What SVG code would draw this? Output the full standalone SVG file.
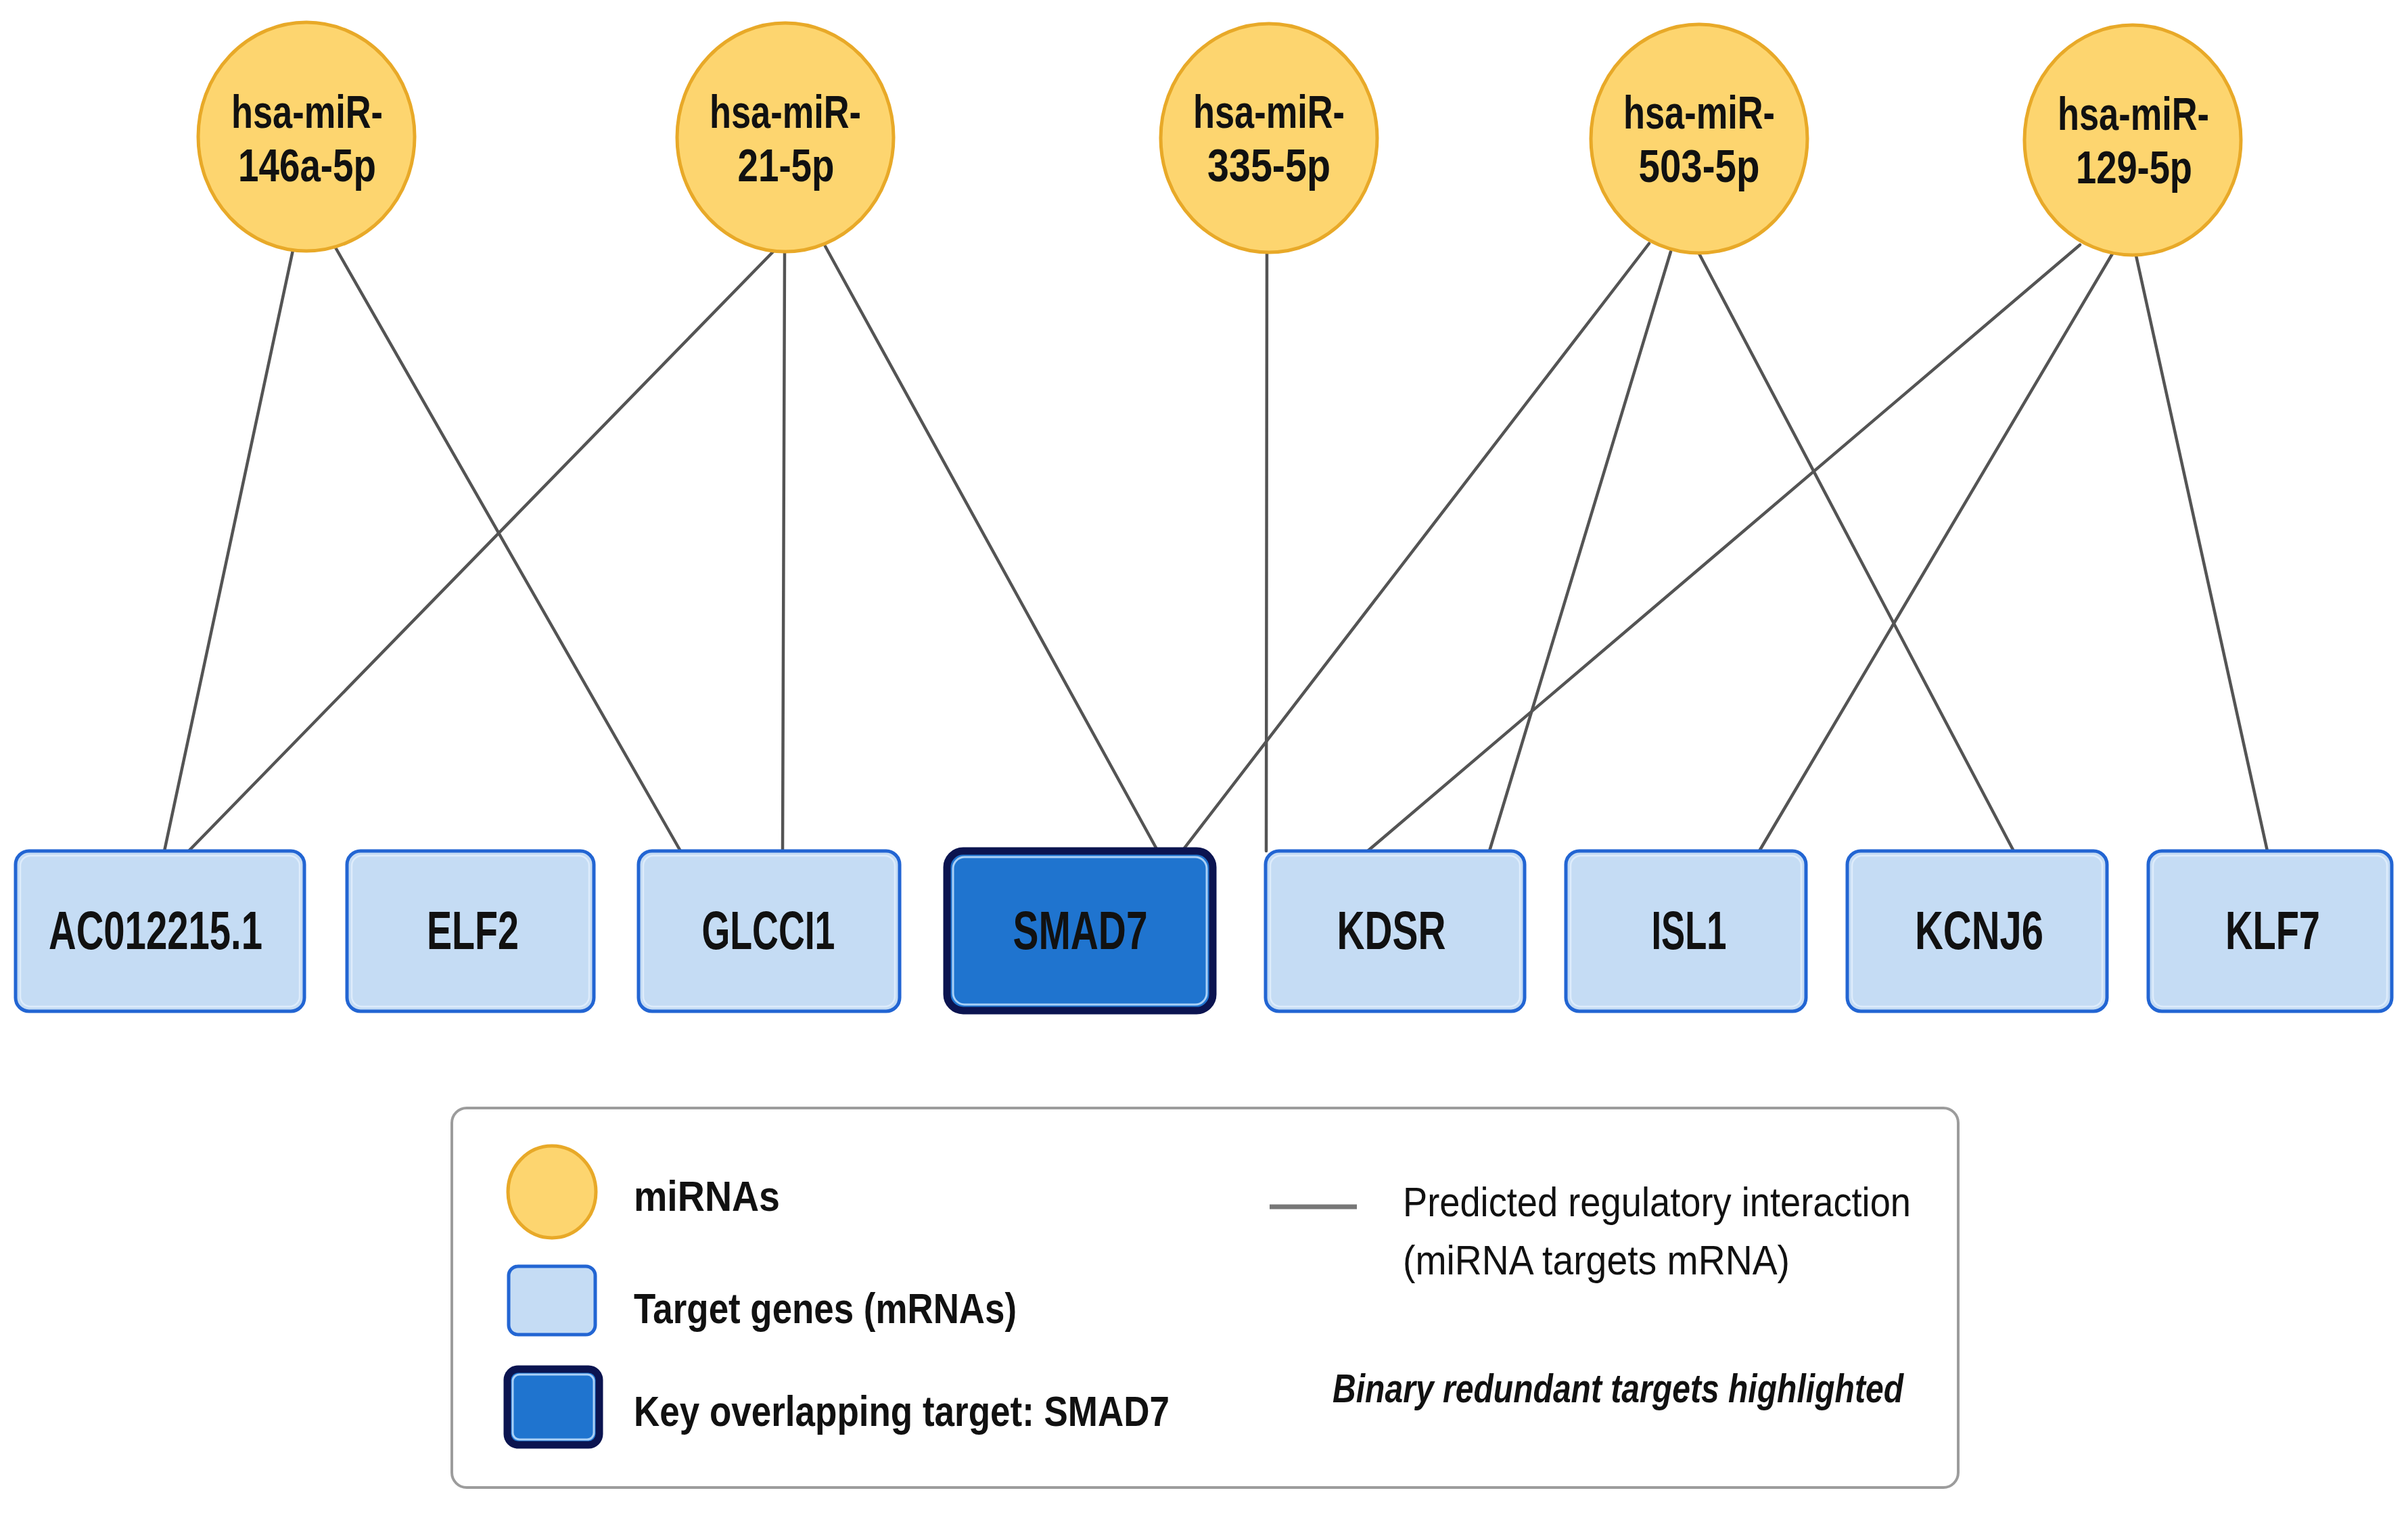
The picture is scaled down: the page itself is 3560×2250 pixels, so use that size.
<svg xmlns="http://www.w3.org/2000/svg" width="3560" height="2250" viewBox="0 0 3560 2250">
<style>
.mir{fill:#fdd56f;stroke:#e8a928;stroke-width:5}
.gene{fill:#c5dcf4;stroke:#2265d3;stroke-width:5}
.geneIn{fill:none;stroke:#e4f0fc;stroke-width:2.5;opacity:0.8}
.key{fill:#1f74cf;stroke:#0b1450;stroke-width:11}
.keyIn{fill:none;stroke:#a9d0f6;stroke-width:3}
.edge{stroke:#545454;stroke-width:4.5;fill:none;stroke-linecap:round}
.t{font-family:"Liberation Sans",Arial,sans-serif;fill:#111}
.lbl{font-weight:bold;text-anchor:middle}
.mt{font-size:69px}
.gt{font-size:80px}
.lg{font-size:63px;font-weight:bold}
.lr{font-size:62px}
</style>
<rect x="0" y="0" width="3560" height="2250" fill="#ffffff"/>

<g id="connectors">
<line class="edge" x1="433" y1="370" x2="243" y2="1258"/>
<line class="edge" x1="496" y1="366" x2="1006" y2="1258"/>
<line class="edge" x1="1145" y1="370" x2="279" y2="1258"/>
<line class="edge" x1="1160" y1="372" x2="1157" y2="1258"/>
<line class="edge" x1="1220" y1="364" x2="1710" y2="1255"/>
<line class="edge" x1="1873" y1="373" x2="1872" y2="1258"/>
<line class="edge" x1="2438" y1="360" x2="1750" y2="1255"/>
<line class="edge" x1="2470" y1="372" x2="2202" y2="1258"/>
<line class="edge" x1="2512" y1="375" x2="2977" y2="1258"/>
<line class="edge" x1="3075" y1="362" x2="2022" y2="1258"/>
<line class="edge" x1="3123" y1="375" x2="2601" y2="1258"/>
<line class="edge" x1="3158" y1="378" x2="3352" y2="1258"/>
</g>

<g id="mir146a">
<ellipse class="mir" cx="453" cy="202" rx="160" ry="169"/>
<text class="t lbl mt" x="454" y="189" textLength="224" lengthAdjust="spacingAndGlyphs">hsa-miR-</text>
<text class="t lbl mt" x="454" y="268" textLength="204" lengthAdjust="spacingAndGlyphs">146a-5p</text>
</g>
<g id="mir21">
<ellipse class="mir" cx="1161" cy="203" rx="160" ry="169"/>
<text class="t lbl mt" x="1161" y="189" textLength="224" lengthAdjust="spacingAndGlyphs">hsa-miR-</text>
<text class="t lbl mt" x="1162" y="268" textLength="143" lengthAdjust="spacingAndGlyphs">21-5p</text>
</g>
<g id="mir335">
<ellipse class="mir" cx="1876" cy="204" rx="160" ry="169"/>
<text class="t lbl mt" x="1876" y="189" textLength="224" lengthAdjust="spacingAndGlyphs">hsa-miR-</text>
<text class="t lbl mt" x="1876" y="268" textLength="182" lengthAdjust="spacingAndGlyphs">335-5p</text>
</g>
<g id="mir503">
<ellipse class="mir" cx="2512" cy="205" rx="160" ry="169"/>
<text class="t lbl mt" x="2512" y="190" textLength="224" lengthAdjust="spacingAndGlyphs">hsa-miR-</text>
<text class="t lbl mt" x="2512" y="269" textLength="179" lengthAdjust="spacingAndGlyphs">503-5p</text>
</g>
<g id="mir129">
<ellipse class="mir" cx="3153" cy="207" rx="160" ry="170"/>
<text class="t lbl mt" x="3154" y="192" textLength="224" lengthAdjust="spacingAndGlyphs">hsa-miR-</text>
<text class="t lbl mt" x="3155" y="271" textLength="172" lengthAdjust="spacingAndGlyphs">129-5p</text>
</g>

<g id="gAC012215">
<rect class="gene" x="23" y="1258" width="427" height="237" rx="20"/>
<rect class="geneIn" x="30" y="1265" width="413" height="223" rx="15"/>
<text class="t lbl gt" x="230" y="1403" textLength="316" lengthAdjust="spacingAndGlyphs">AC012215.1</text>
</g>
<g id="gELF2">
<rect class="gene" x="513" y="1258" width="365" height="237" rx="20"/>
<rect class="geneIn" x="520" y="1265" width="351" height="223" rx="15"/>
<text class="t lbl gt" x="699" y="1403" textLength="136" lengthAdjust="spacingAndGlyphs">ELF2</text>
</g>
<g id="gGLCCI1">
<rect class="gene" x="944" y="1258" width="386" height="237" rx="20"/>
<rect class="geneIn" x="951" y="1265" width="372" height="223" rx="15"/>
<text class="t lbl gt" x="1136" y="1403" textLength="197" lengthAdjust="spacingAndGlyphs">GLCCI1</text>
</g>
<g id="gSMAD7">
<rect class="key" x="1400" y="1258" width="393" height="236" rx="24"/>
<rect class="keyIn" x="1409" y="1267" width="375" height="218" rx="17"/>
<text class="t lbl gt" x="1597" y="1403" textLength="199" lengthAdjust="spacingAndGlyphs">SMAD7</text>
</g>
<g id="gKDSR">
<rect class="gene" x="1871" y="1258" width="383" height="237" rx="20"/>
<rect class="geneIn" x="1878" y="1265" width="369" height="223" rx="15"/>
<text class="t lbl gt" x="2057" y="1403" textLength="161" lengthAdjust="spacingAndGlyphs">KDSR</text>
</g>
<g id="gISL1">
<rect class="gene" x="2315" y="1258" width="355" height="237" rx="20"/>
<rect class="geneIn" x="2322" y="1265" width="341" height="223" rx="15"/>
<text class="t lbl gt" x="2497" y="1403" textLength="111" lengthAdjust="spacingAndGlyphs">ISL1</text>
</g>
<g id="gKCNJ6">
<rect class="gene" x="2731" y="1258" width="384" height="237" rx="20"/>
<rect class="geneIn" x="2738" y="1265" width="370" height="223" rx="15"/>
<text class="t lbl gt" x="2926" y="1403" textLength="190" lengthAdjust="spacingAndGlyphs">KCNJ6</text>
</g>
<g id="gKLF7">
<rect class="gene" x="3176" y="1258" width="360" height="237" rx="20"/>
<rect class="geneIn" x="3183" y="1265" width="346" height="223" rx="15"/>
<text class="t lbl gt" x="3360" y="1403" textLength="140" lengthAdjust="spacingAndGlyphs">KLF7</text>
</g>

<g id="legend">
<rect x="668" y="1638" width="2227" height="561" rx="22" fill="#ffffff" stroke="#9c9c9c" stroke-width="4"/>
<ellipse class="mir" cx="816" cy="1762" rx="65" ry="68"/>
<text class="t lg" x="937" y="1790" textLength="216" lengthAdjust="spacingAndGlyphs">miRNAs</text>
<rect class="gene" x="752" y="1872" width="128" height="101" rx="14"/>
<text class="t lg" x="937" y="1956" textLength="566" lengthAdjust="spacingAndGlyphs">Target genes (mRNAs)</text>
<rect class="key" x="750" y="2024" width="136" height="112" rx="16"/>
<rect class="keyIn" x="758" y="2032" width="120" height="96" rx="10"/>
<text class="t lg" x="937" y="2108" textLength="792" lengthAdjust="spacingAndGlyphs">Key overlapping target: SMAD7</text>
<line x1="1877" y1="1784" x2="2006" y2="1784" stroke="#777777" stroke-width="7"/>
<text class="t lr" x="2074" y="1798" textLength="751" lengthAdjust="spacingAndGlyphs">Predicted regulatory interaction</text>
<text class="t lr" x="2074" y="1884" textLength="572" lengthAdjust="spacingAndGlyphs">(miRNA targets mRNA)</text>
<text class="t" x="1970" y="2073" font-size="60" font-weight="bold" font-style="italic" textLength="844" lengthAdjust="spacingAndGlyphs">Binary redundant targets highlighted</text>
</g>
</svg>
